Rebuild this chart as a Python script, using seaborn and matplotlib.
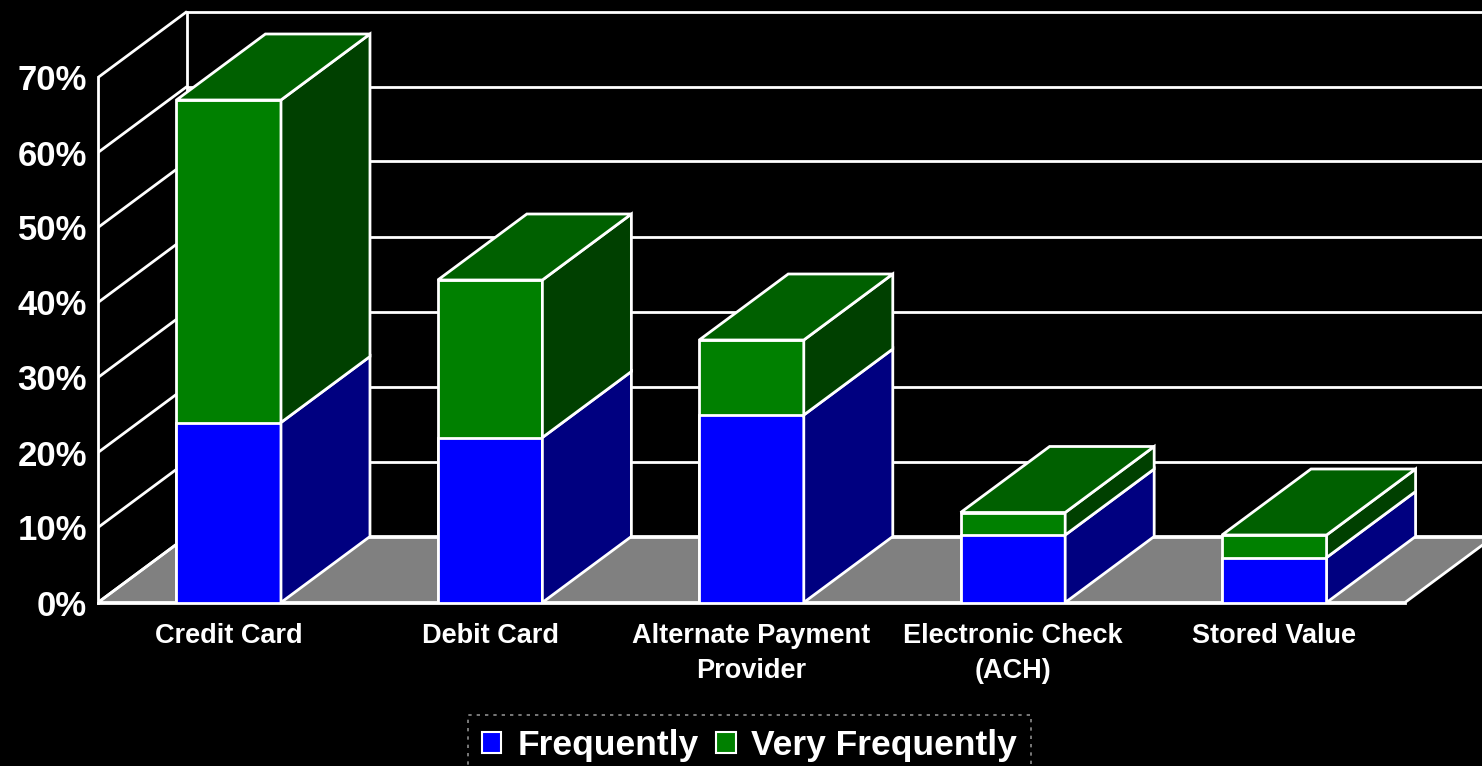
import matplotlib
matplotlib.use("Agg")
import matplotlib.pyplot as plt
from matplotlib.patches import Polygon, Patch
from matplotlib.font_manager import FontProperties
import seaborn as sns
import pandas as pd

# ---- data -------------------------------------------------------------
categories = ["Credit Card", "Debit Card", "Alternate Payment\nProvider",
              "Electronic Check\n(ACH)", "Stored Value"]
frequently = [24, 22, 25, 9, 6]
very_frequently = [43, 21, 10, 3, 3]
series_names = ["Frequently", "Very Frequently"]
y_ticks = [0, 10, 20, 30, 40, 50, 60, 70]
y_tick_labels = ["0%", "10%", "20%", "30%", "40%", "50%", "60%", "70%"]

totals = [a + b for a, b in zip(frequently, very_frequently)]
df = pd.DataFrame({"category": categories, "frequently": frequently, "total": totals})

# ---- colours ----------------------------------------------------------
BLUE, BLUE_SIDE = "#0000FF", "#000080"
GREEN, GREEN_SIDE, GREEN_TOP = "#008000", "#004000", "#006000"
FLOOR = "#808080"

sns.set_style("white")
plt.rcParams["font.family"] = ["Liberation Sans", "DejaVu Sans"]

def bold(size):
    return FontProperties(family="Liberation Sans", weight="bold", size=size)

W, H = 1482, 766
CAT_PX = 261.4          # pixels per category slot
PCT_PX = 7.5            # pixels per percent
X0, Y0 = 98, 602.5      # front-plane origin in pixels

fig = plt.figure(figsize=(W / 100, H / 100), dpi=100, facecolor="black")
ax = fig.add_axes([X0 / W, (H - Y0) / H, (W - X0) / W, Y0 / H])
ax.set_facecolor("black")

n = len(categories)
xmin, xmax = -0.5, -0.5 + (W - X0) / CAT_PX
ymax = Y0 / PCT_PX
# depth offset of the pseudo-3D projection, in data units
dx, dy = 89 / CAT_PX, 66 / PCT_PX

# floor
ax.add_patch(Polygon([(-0.5, 0), (n - 0.5, 0), (n - 0.5 + dx, dy), (-0.5 + dx, dy)],
                     closed=True, facecolor=FLOOR, edgecolor="white", lw=2, zorder=1))

# left wall diagonals and back wall gridlines
for t in y_ticks:
    ax.plot([-0.5, -0.5 + dx], [t, t + dy], color="white", lw=2, zorder=1.5,
            solid_capstyle="butt")
    ax.plot([-0.5 + dx, xmax], [t + dy, t + dy], color="white", lw=2, zorder=1.5)
ax.plot([-0.5 + dx, -0.5 + dx], [dy, y_ticks[-1] + dy], color="white", lw=2, zorder=1.5)

# front faces of the stacked bars
sns.barplot(data=df, x="category", y="total", color=GREEN, saturation=1, width=0.4,
            edgecolor="white", linewidth=2, zorder=3, ax=ax)
sns.barplot(data=df, x="category", y="frequently", color=BLUE, saturation=1, width=0.4,
            edgecolor="white", linewidth=2, zorder=3, ax=ax)

green_bars = ax.containers[0]
blue_bars = ax.containers[1]


def side(x1, y_lo, y_hi):
    return [(x1, y_lo), (x1 + dx, y_lo + dy), (x1 + dx, y_hi + dy), (x1, y_hi)]


for gb, bb in zip(green_bars.patches, blue_bars.patches):
    x0 = gb.get_x()
    x1 = x0 + gb.get_width()
    f = bb.get_height()
    tot = gb.get_height()
    ax.add_patch(Polygon(side(x1, 0, f), closed=True, facecolor=BLUE_SIDE,
                         edgecolor="white", lw=2, zorder=3))
    ax.add_patch(Polygon(side(x1, f, tot), closed=True, facecolor=GREEN_SIDE,
                         edgecolor="white", lw=2, zorder=3))
    ax.add_patch(Polygon([(x0, tot), (x1, tot), (x1 + dx, tot + dy), (x0 + dx, tot + dy)],
                         closed=True, facecolor=GREEN_TOP, edgecolor="white", lw=2, zorder=3))

# axes, ticks and labels
ax.set_xlim(xmin, xmax)
ax.set_ylim(0, ymax)
ax.set_xlabel("")
ax.set_ylabel("")
for s in ["top", "right"]:
    ax.spines[s].set_visible(False)
ax.spines["left"].set_bounds(0, y_ticks[-1])
ax.spines["bottom"].set_bounds(-0.5, n - 0.5)
for s in ["left", "bottom"]:
    ax.spines[s].set_color("white")
    ax.spines[s].set_linewidth(2)
    ax.spines[s].set_zorder(2)

ax.set_yticks(y_ticks, y_tick_labels)
ax.tick_params(axis="y", colors="white", length=5, width=2, pad=3)
for lbl in ax.get_yticklabels():
    lbl.set_fontproperties(bold(25))

ax.set_xticks([i - 0.5 for i in range(n + 1)], [""] * (n + 1))
ax.set_xticks(list(range(n)), categories, minor=True)
ax.tick_params(axis="x", which="major", colors="white", length=7, width=2)
ax.tick_params(axis="x", which="minor", colors="white", length=0, pad=15)
for lbl in ax.get_xticklabels(minor=True):
    lbl.set_fontproperties(bold(19.5))
    lbl.set_linespacing(1.42)

# legend
handles = [Patch(facecolor=BLUE, edgecolor="white", lw=1.5),
           Patch(facecolor=GREEN, edgecolor="white", lw=1.5)]
leg = fig.legend(handles=handles, labels=series_names, loc="upper center",
                 bbox_to_anchor=(749.5 / W, 1 - 715 / H), ncol=2, frameon=True,
                 fancybox=False, facecolor="black", edgecolor="#b0b0b0",
                 prop=bold(25.5), handlelength=0.55,
                 handleheight=0.55, handletextpad=0.45, columnspacing=0.5,
                 borderpad=0.4, borderaxespad=0)
leg.get_frame().set_linestyle((0, (2, 3)))
leg.get_frame().set_linewidth(1.2)
for txt in leg.get_texts():
    txt.set_color("white")

fig.savefig("out.png", dpi=100, facecolor="black")
